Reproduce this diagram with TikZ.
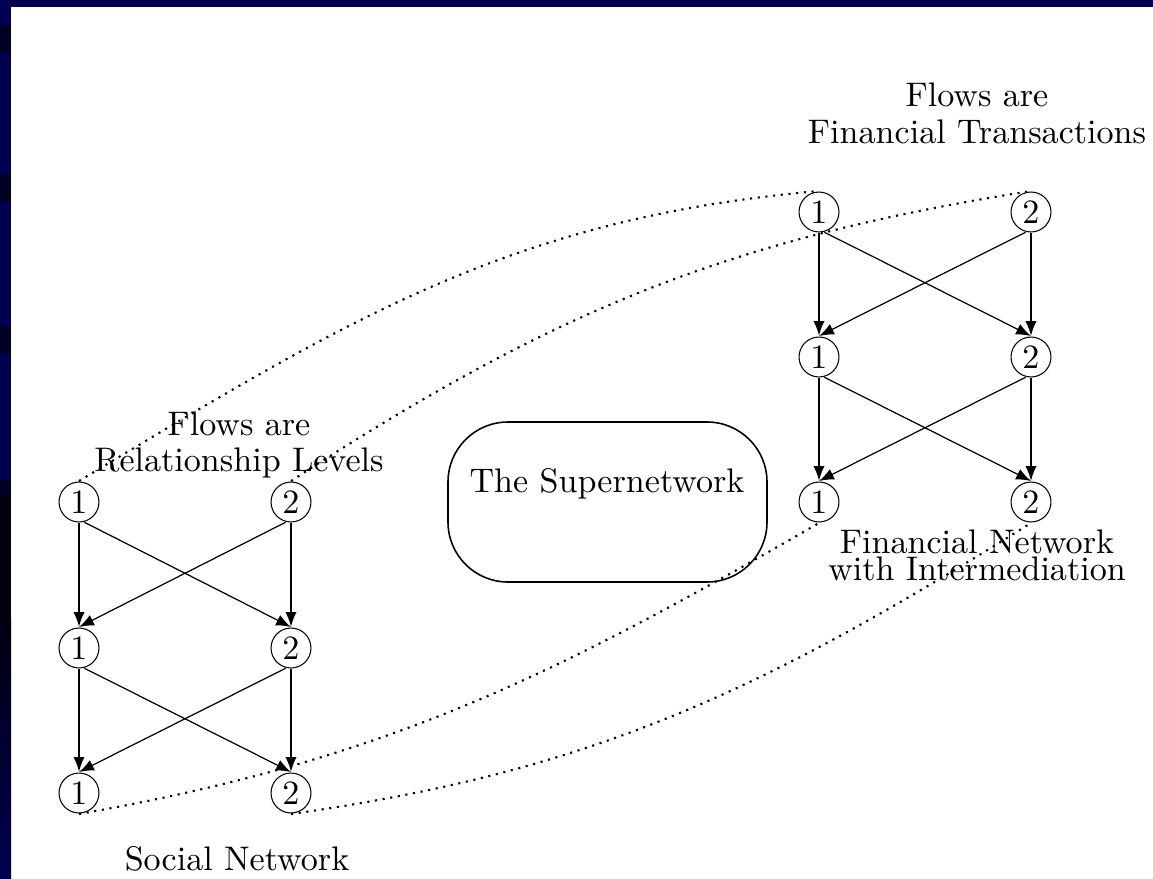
\documentclass[tikz,border=0pt]{standalone}
\usetikzlibrary{arrows.meta}

\definecolor{azulmarino}{RGB}{0,0,80}
\definecolor{azuloscuro}{RGB}{0,0,34}
\definecolor{casinegro}{RGB}{0,0,16}

\tikzset{
  nodo/.style={circle, draw, line width=0.6pt, minimum size=0.412cm, inner sep=0pt,
    scale=1.94, transform shape, font=\fontsize{10}{10.8}\selectfont},
  etiqueta/.style={align=center, inner sep=0pt, scale=1.94, transform shape,
    font=\fontsize{10}{10.8}\selectfont},
  vertical/.style={->, line width=1.2pt},
  cruzada/.style={->, line width=0.7pt},
  punteada/.style={line width=1.2pt, dash pattern=on 1.2pt off 3.2pt},
}

\begin{document}
\begin{tikzpicture}[x=0.02cm, y=-0.02cm, >={Latex[length=8.5pt,width=6.5pt]}]
    % Marco (fondo y bordes azules)
    \useasboundingbox (0,0) rectangle (1153,879);
    \fill[white] (0,0) rectangle (1153,879);
    \fill[azulmarino] (0,0) rectangle (1153,7);
    \fill[azulmarino] (0,0) rectangle (11,879);
    \foreach \a/\b in {25/52, 174/202, 326/354, 480/494}
        \fill[azuloscuro] (0,\a) rectangle (11,\b);
    \fill[casinegro] (0,494) rectangle (11,618);
    \shade[top color=casinegro, bottom color=azulmarino] (0,618) rectangle (11,879);

    % Red social (izquierda) y red financiera (derecha)
    \foreach \f/\ys/\yf in {1/502/212, 2/648/357, 3/793/502} {
        \node[nodo] (S\f1) at (79,\ys) {1};
        \node[nodo] (S\f2) at (291,\ys) {2};
        \node[nodo] (F\f1) at (819,\yf) {1};
        \node[nodo] (F\f2) at (1031,\yf) {2};
    }

    % Flechas entre niveles
    \foreach \r in {S, F}
        \foreach \f/\g in {1/2, 2/3} {
            \draw[vertical] (\r\f1.south) -- (\r\g1.north);
            \draw[vertical] (\r\f2.south) -- (\r\g2.north);
            \draw[cruzada] (\r\f1.-75) -- (\r\g2.north);
            \draw[cruzada] (\r\f2.-105) -- (\r\g1.north);
        }

    % La supered
    \draw[line width=0.9pt, rounded corners=1.2cm] (448,422) rectangle (767,582);
    \node[etiqueta, anchor=base] (super) at (607,492) {The Supernetwork};

    % Textos
    \node[etiqueta] (flujosS) at (239,445) {Flows are\\Relationship Levels};
    \node[etiqueta, anchor=base] (social) at (237,870) {Social Network};
    \node[etiqueta] (flujosF) at (977,113) {Flows are\\Financial Transactions};
    \node[etiqueta, font=\fontsize{10}{7.95}\selectfont] (financiera) at (977,555)
        {Financial Network\\with Intermediation};

    % Curvas punteadas que unen las dos redes
    \draw[punteada] (S11.north) to[out=31, in=185] (F11.north);
    \draw[punteada] (S12.north) to[out=33, in=189] (F12.north);
    \draw[punteada] (S31.south) to[out=10, in=210] (F31.south);
    \draw[punteada] (S32.south) to[out=8, in=212] (F32.south);
\end{tikzpicture}
\end{document}
